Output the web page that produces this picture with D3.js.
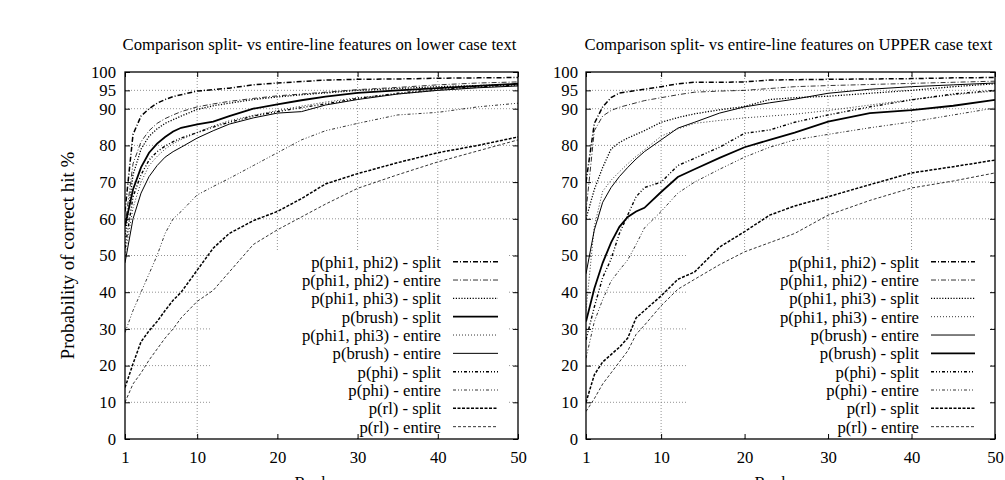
<!DOCTYPE html>
<html>
<head>
<meta charset="utf-8">
<script src="https://cdn.jsdelivr.net/npm/d3@7"></script>
<style>
  body { margin: 0; background: #fff; }
  text { font-family: "Liberation Serif", "Times New Roman", serif; fill: #000; }
</style>
</head>
<body>
<div id="chart"></div>
<script>
  var ranks = [1,2,3,4,5,6,7,8,10,12,14,17,20,23,26,30,35,40,45,50];

  var xTicks = [1,10,20,30,40,50];
  var yTicks = [0,10,20,30,40,50,60,70,80,90,95,100];

  // lower case text panel
  var lowerPhi12Split  = [62,83,88,90,91.5,92.5,93.3,93.8,94.8,95.2,95.6,96.5,97,97.4,97.8,98,98.1,98.3,98.4,98.5];
  var lowerPhi12Entire = [58,75,81,84,86,87.3,88.3,89.2,90.5,91.3,92,92.8,93.5,94,94.5,95.2,95.8,96.5,97,97.3];
  var lowerPhi13Split  = [55,72,79,82.5,84.5,86,87,88,89.8,90.8,91.5,92.5,93.2,93.8,94.3,95,95.5,96,96.3,96.6];
  var lowerBrushSplit  = [58,68,74,78,80.5,82.3,83.8,84.8,85.7,86.5,88,90,91.2,92.3,93.3,94.3,95,95.6,96.2,96.8];
  var lowerPhi13Entire = [50,63,70,74.5,77,79,80.5,81.6,83.5,85.3,86.7,88.2,89.5,90.7,91.8,93,94,95,95.8,96.3];
  var lowerBrushEntire = [48,60,67,71.5,74.5,76.8,78.3,79.5,82,84,85.8,87.5,88.8,89.2,91,92.5,94,95,95.7,96.2];
  var lowerPhiSplit    = [52,66,72,76,78.3,79.8,81,82,83.5,85,86.3,88,89.2,90.3,91.3,92.8,94.2,95.3,96,96.5];
  var lowerPhiEntire   = [29,35,40,45,50,56,60,62,66.5,68.8,71,74.5,78,81.5,84,86,88.3,89,90.5,91.5];
  var lowerRlSplit     = [14,20.5,26.5,29.5,32,35,37.8,40,46,52,56,59.5,62,65.5,69.5,72.3,75.3,78,80,82.3];
  var lowerRlEntire    = [10,15,18,21.5,24.5,27.5,30,33,37.5,40.5,45.5,53,57,60.5,64,68.3,72,75.5,78.5,81.5];

  // UPPER case text panel
  var upperPhi12Split  = [70,86,90.5,93,94.3,94.6,95,95.3,96,96.8,97.2,97.2,97.3,97.8,97.9,98,98.1,98.2,98.4,98.5];
  var upperPhi12Entire = [62,84,88,89.5,90.4,91,91.6,92.2,93,93.8,94.5,94.8,95,95.5,96,96.3,96.6,96.9,97.2,97.5];
  var upperPhi13Split  = [60,68,74,79,80.8,82,83,84,86.3,87.6,88.6,89.7,90.6,92.5,93,93.4,94.2,95,96,96.8];
  var upperPhi13Entire = [35,58,67.5,70.5,72.8,75,77,78.8,82.5,84.5,86,86.8,87.5,88,88.5,89.5,91,92.5,93.8,94.8];
  var upperBrushEntire = [45,57,64.5,68.5,71.5,74,76.3,78.3,81.5,84.7,86.3,88.8,90.5,91.6,92.6,94.2,95.3,96,96.5,97];
  var upperBrushSplit  = [32,41,48,53.5,57.8,60.5,62,63,67.3,71.4,73.5,76.6,79.5,81.5,83.5,86.5,88.8,89.6,90.8,92.4];
  var upperPhiSplit    = [27,36,44,49,56,61,66,68.5,70,74.5,76.5,79.5,83.3,84.2,86.3,88.3,90.5,92.4,94,95];
  var upperPhiEntire   = [22,32,38,43,46,48.8,53,57.5,62,67,70,73.5,76.8,79.5,81.5,83,84.8,86.4,88.3,90.2];
  var upperRlSplit     = [10,17.5,21,23,25,27.5,33,35,39,43.5,45.5,52.3,56.5,61,63.5,66,69.3,72.5,74.2,76];
  var upperRlEntire    = [7.5,11,15,18,21,24,28.5,31,36.3,40.8,43.5,47.5,51,53.5,56,61,65,68.4,70.3,72.5];

  // line styles (gnuplot-like dashed types)
  var styles = {
    phi12Split:  {dash: "5,2,1,2",     w: 1.5},
    phi12Entire: {dash: "5,2,1,2",     w: 0.8},
    phi13Split:  {dash: "1.2,1.6",     w: 1.3},
    phi13Entire: {dash: "1,2",         w: 0.8},
    brushSplit:  {dash: null,          w: 1.8},
    brushEntire: {dash: null,          w: 1.0},
    phiSplit:    {dash: "3,2,1,2,1,2", w: 1.4},
    phiEntire:   {dash: "3,2,1,2,1,2", w: 0.8},
    rlSplit:     {dash: "3,1.5",       w: 1.5},
    rlEntire:    {dash: "3,2",         w: 0.8}
  };

  var panels = [
    {
      title: "Comparison split- vs entire-line features on lower case text",
      left: 125, right: 518, yLabel: true, rankX: 312,
      key: {x: 210, w: 297, textX: 441, lineX1: 453, lineX2: 498},
      series: [
        {name: "p(phi1, phi2) - split",  style: "phi12Split",  values: lowerPhi12Split},
        {name: "p(phi1, phi2) - entire", style: "phi12Entire", values: lowerPhi12Entire},
        {name: "p(phi1, phi3) - split",  style: "phi13Split",  values: lowerPhi13Split},
        {name: "p(brush) - split",       style: "brushSplit",  values: lowerBrushSplit},
        {name: "p(phi1, phi3) - entire", style: "phi13Entire", values: lowerPhi13Entire},
        {name: "p(brush) - entire",      style: "brushEntire", values: lowerBrushEntire},
        {name: "p(phi) - split",         style: "phiSplit",    values: lowerPhiSplit},
        {name: "p(phi) - entire",        style: "phiEntire",   values: lowerPhiEntire},
        {name: "p(rl) - split",          style: "rlSplit",     values: lowerRlSplit},
        {name: "p(rl) - entire",         style: "rlEntire",    values: lowerRlEntire}
      ]
    },
    {
      title: "Comparison split- vs entire-line features on UPPER case text",
      left: 586, right: 995, yLabel: false, rankX: 772,
      key: {x: 687, w: 303, textX: 919, lineX1: 931, lineX2: 975},
      series: [
        {name: "p(phi1, phi2) - split",  style: "phi12Split",  values: upperPhi12Split},
        {name: "p(phi1, phi2) - entire", style: "phi12Entire", values: upperPhi12Entire},
        {name: "p(phi1, phi3) - split",  style: "phi13Split",  values: upperPhi13Split},
        {name: "p(phi1, phi3) - entire", style: "phi13Entire", values: upperPhi13Entire},
        {name: "p(brush) - entire",      style: "brushEntire", values: upperBrushEntire},
        {name: "p(brush) - split",       style: "brushSplit",  values: upperBrushSplit},
        {name: "p(phi) - split",         style: "phiSplit",    values: upperPhiSplit},
        {name: "p(phi) - entire",        style: "phiEntire",   values: upperPhiEntire},
        {name: "p(rl) - split",          style: "rlSplit",     values: upperRlSplit},
        {name: "p(rl) - entire",         style: "rlEntire",    values: upperRlEntire}
      ]
    }
  ];

  var plotTop = 72, plotBottom = 439, fontSize = 16.7;

  var svg = d3.select("#chart").append("svg")
      .attr("width", 1005)
      .attr("height", 480);

  panels.forEach(function(p, pi) {
    var x = d3.scaleLinear().domain([1, 50]).range([p.left, p.right]);
    var y = d3.scaleLinear().domain([0, 100]).range([plotBottom, plotTop]);
    var g = svg.append("g");

    // grid
    g.append("g").selectAll("line")
      .data(xTicks.filter(function(d) { return d > 1 && d < 50; }))
      .enter().append("line")
        .attr("x1", function(d) { return x(d); })
        .attr("x2", function(d) { return x(d); })
        .attr("y1", y(0)).attr("y2", y(100))
        .attr("stroke", "#777").attr("stroke-width", 0.8)
        .attr("stroke-dasharray", "1,2");
    g.append("g").selectAll("line")
      .data(yTicks.filter(function(d) { return d > 0 && d < 100; }))
      .enter().append("line")
        .attr("x1", x(1)).attr("x2", x(50))
        .attr("y1", function(d) { return y(d); })
        .attr("y2", function(d) { return y(d); })
        .attr("stroke", "#777").attr("stroke-width", 0.8)
        .attr("stroke-dasharray", "1,2");

    // key area hides the grid
    g.append("rect")
      .attr("x", p.key.x).attr("y", 250)
      .attr("width", p.key.w).attr("height", 187)
      .attr("fill", "#fff");

    // curves
    g.append("clipPath").attr("id", "clip" + pi)
      .append("rect")
        .attr("x", p.left).attr("y", plotTop)
        .attr("width", p.right - p.left).attr("height", plotBottom - plotTop);

    var line = d3.line()
      .x(function(d, i) { return x(ranks[i]); })
      .y(function(d) { return y(d); });

    g.append("g").attr("clip-path", "url(#clip" + pi + ")")
      .selectAll("path")
      .data(p.series)
      .enter().append("path")
        .attr("d", function(s) { return line(s.values); })
        .attr("fill", "none")
        .attr("stroke", "#000")
        .attr("stroke-width", function(s) { return styles[s.style].w; })
        .attr("stroke-dasharray", function(s) { return styles[s.style].dash; });

    // axes with inward ticks
    function styleAxis(a) {
      a.select(".domain").remove();
      a.attr("font-size", fontSize).attr("font-family", null);
    }
    g.append("g")
      .attr("transform", "translate(0," + y(0) + ")")
      .call(d3.axisBottom(x).tickValues(xTicks).tickSize(-5).tickSizeOuter(0).tickPadding(12))
      .call(styleAxis);
    g.append("g")
      .attr("transform", "translate(" + x(1) + ",0)")
      .call(d3.axisLeft(y).tickValues(yTicks).tickSize(-5).tickSizeOuter(0).tickPadding(pi == 0 ? 9 : 8))
      .call(styleAxis);
    g.append("g")
      .attr("transform", "translate(0," + y(100) + ")")
      .call(d3.axisTop(x).tickValues(xTicks).tickSize(-5).tickSizeOuter(0).tickFormat(""))
      .call(styleAxis);
    g.append("g")
      .attr("transform", "translate(" + x(50) + ",0)")
      .call(d3.axisRight(y).tickValues(yTicks).tickSize(-5).tickSizeOuter(0).tickFormat(""))
      .call(styleAxis);

    // frame
    g.append("rect")
      .attr("x", x(1)).attr("y", y(100))
      .attr("width", x(50) - x(1)).attr("height", y(0) - y(100))
      .attr("fill", "none").attr("stroke", "#000").attr("stroke-width", 1.3);

    // key
    var key = g.append("g").selectAll("g")
      .data(p.series)
      .enter().append("g")
        .attr("transform", function(s, i) { return "translate(0," + (261.7 + i * 18.33) + ")"; });
    key.append("text")
      .attr("x", p.key.textX)
      .attr("dy", "0.35em")
      .attr("text-anchor", "end")
      .attr("font-size", fontSize)
      .text(function(s) { return s.name; });
    key.append("line")
      .attr("x1", p.key.lineX1).attr("x2", p.key.lineX2)
      .attr("stroke", "#000")
      .attr("stroke-width", function(s) { return styles[s.style].w; })
      .attr("stroke-dasharray", function(s) { return styles[s.style].dash; });

    // titles and labels
    g.append("text")
      .attr("x", (p.left + p.right) / 2 - 2).attr("y", 50)
      .attr("text-anchor", "middle")
      .attr("font-size", fontSize)
      .text(p.title);
    g.append("text")
      .attr("x", p.rankX).attr("y", 488)
      .attr("text-anchor", "middle")
      .attr("font-size", fontSize)
      .text("Rank");
    if (p.yLabel) {
      g.append("text")
        .attr("transform", "translate(74," + ((plotTop + plotBottom) / 2) + ") rotate(-90)")
        .attr("text-anchor", "middle")
        .attr("font-size", 19)
        .text("Probability of correct hit %");
    }
  });
</script>
</body>
</html>
